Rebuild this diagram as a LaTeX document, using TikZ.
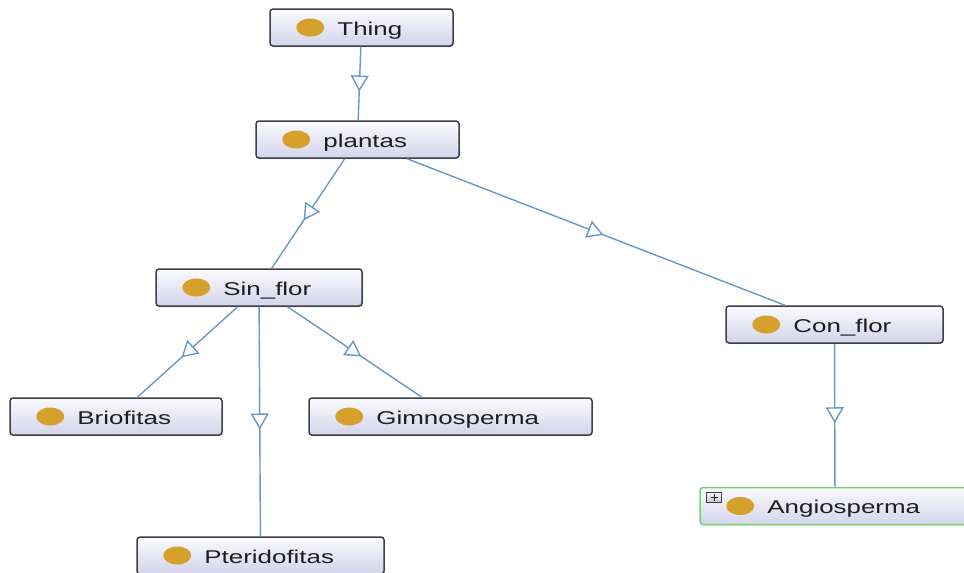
\documentclass[tikz,border=0pt]{standalone}
\usepackage{fontspec}
\setmainfont{Liberation Sans}
\usepackage{graphicx}
\usetikzlibrary{arrows.meta,decorations.markings,shadows}

\definecolor{owlgold}{RGB}{213,161,44}
\definecolor{owledge}{RGB}{104,152,200}
\definecolor{owlborder}{RGB}{62,62,70}
\definecolor{owltop}{RGB}{250,250,254}
\definecolor{owlbottom}{RGB}{212,212,236}
\definecolor{owlgreen}{RGB}{112,214,104}
\definecolor{owltext}{RGB}{30,30,30}

\tikzset{
  clsbox/.style={rectangle, rounded corners=3pt, draw=owlborder, line width=1.5pt,
    top color=owltop, bottom color=owlbottom, minimum height=37pt, inner sep=0pt,
    drop shadow={shadow xshift=1pt, shadow yshift=-1pt, opacity=0.25}},
  clslabel/.style={anchor=base west, inner sep=0pt, text=owltext,
    font=\fontsize{18.5}{22}\selectfont},
  isa/.style={draw=owledge, line width=1.4pt, postaction={decorate},
    decoration={markings, mark=at position 0.5 with
      {\pgftransformxshift{8pt}\arrow{Triangle[length=16pt,width=18pt,fill=white]}}}},
  expandbox/.style={rectangle, draw=owlborder, line width=0.8pt, top color=white,
    bottom color=gray!45, minimum width=15pt, minimum height=10pt, inner sep=0pt}
}

% one ontology class: name, centre x, centre y, width, label, extra box options
\newcommand\owlclass[6]{%
  \node[clsbox, minimum width=#4pt, #6] (#1) at (#2,#3) {};
  \fill[owlgold] ([xshift=41pt]#1.west) ellipse [x radius=14, y radius=9];
  \node[clslabel] (#1-label) at ([shift={(68,7.5)}]#1.west) {\scalebox{1.4}[1]{#5}};
}

\begin{document}
\begin{tikzpicture}[x=1pt, y=-1pt]
  \useasboundingbox (0,0) rectangle (964,573);
  \fill[white] (0,0) rectangle (964,573);
  \clip (0,0) rectangle (964,573);

  \owlclass{thing}{361.5}{27.5}{183}{Thing}{}
  \owlclass{plantas}{357.5}{139.5}{203}{plantas}{}
  \owlclass{sinflor}{259}{287.5}{206}{Sin\_flor}{}
  \owlclass{conflor}{834.5}{324.5}{217}{Con\_flor}{}
  \owlclass{briofitas}{116}{416.5}{212}{Briofitas}{}
  \owlclass{gimnosperma}{450.5}{416.5}{283}{Gimnosperma}{}
  \owlclass{pteridofitas}{260.5}{555.5}{247}{Pteridofitas}{}
  \owlclass{angiosperma}{835}{506}{270}{Angiosperma}{draw=owlgreen}

  % expand marker on the collapsed class
  \node[expandbox] (angio-expand) at (714,497) {};
  \draw[owltext, line width=1pt] ([xshift=-3.5pt]angio-expand.center) -- ([xshift=3.5pt]angio-expand.center)
    ([yshift=-3.5pt]angio-expand.center) -- ([yshift=3.5pt]angio-expand.center);

  % subclass links
  \draw[isa] (thing) -- (plantas);
  \draw[isa] (plantas) -- (sinflor);
  \draw[isa] (plantas) -- (conflor);
  \draw[isa] (sinflor) -- (briofitas);
  \draw[isa] (sinflor) -- (pteridofitas);
  \draw[isa] (sinflor) -- (gimnosperma);
  \draw[isa] (conflor) -- (angiosperma);
\end{tikzpicture}
\end{document}
